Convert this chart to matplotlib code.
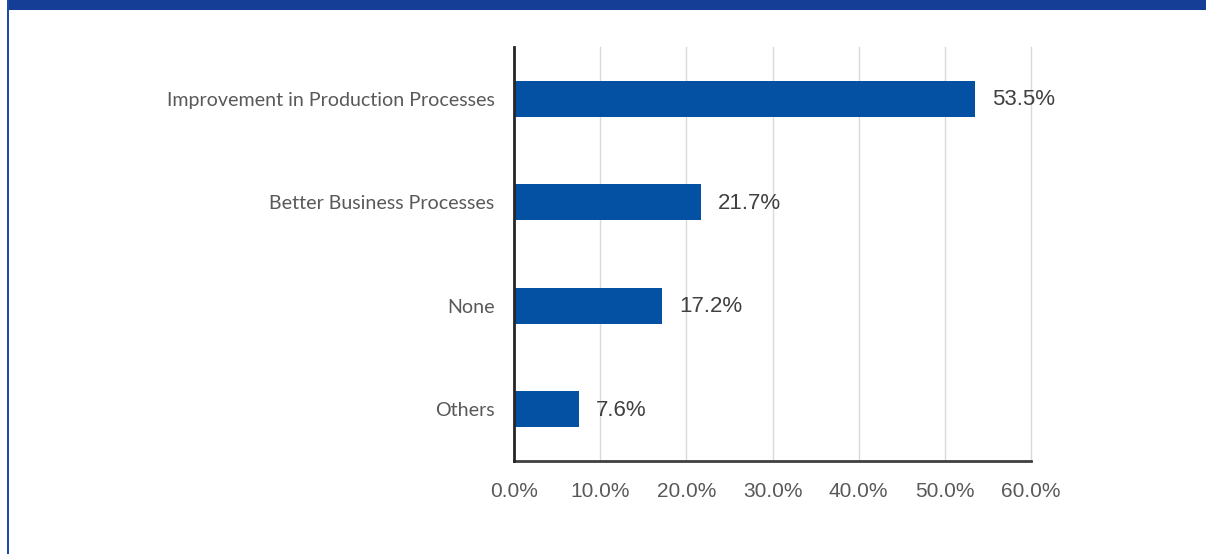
import matplotlib.pyplot as plt
from matplotlib.patches import Rectangle

categories = ['Improvement in Production Processes', 'Better Business Processes',
              'None', 'Others']
values = [53.5, 21.7, 17.2, 7.6]
xticks = [0, 10, 20, 30, 40, 50, 60]

num_font = ['Liberation Sans Narrow', 'Liberation Sans']
cat_font = ['Lato', 'DejaVu Sans']

W, H = 1206, 554
fig = plt.figure(figsize=(W / 100, H / 100), dpi=100)

# frame: blue band along the top and a thin rule down the left side
fig.add_artist(Rectangle((7 / W, 1 - 10 / H), 1, 10 / H, transform=fig.transFigure,
                         color='#153f96', lw=0))
fig.add_artist(Rectangle((7 / W, 0), 2 / W, 1, transform=fig.transFigure,
                         color='#1e4aa8', lw=0))

ax = fig.add_axes([514 / W, 1 - 461 / H, 517 / W, 414 / H])
y = list(range(len(categories)))
ax.barh(y, values, height=0.35, color='#0450a3', zorder=3)
ax.set_ylim(3.5, -0.5)
ax.set_xlim(0, 60)

ax.set_xticks(xticks)
ax.set_xticklabels([f'{t:.1f}%' for t in xticks], family=num_font,
                   fontsize=15, color='#595959')
ax.set_yticks(y)
ax.set_yticklabels(categories, family=cat_font, fontsize=14.1, color='#595959')
ax.tick_params(axis='both', length=0)
ax.tick_params(axis='x', pad=15)
ax.tick_params(axis='y', pad=14)

ax.grid(axis='x', color='#d9d9d9', lw=1, zorder=0)
for line in ax.get_xgridlines():
    line.set_clip_on(False)
for side in ['top', 'right']:
    ax.spines[side].set_visible(False)
ax.spines['left'].set_color('#262626')
ax.spines['left'].set_linewidth(2)
ax.spines['bottom'].set_color('#404040')
ax.spines['bottom'].set_linewidth(2)
ax.spines['left'].set_zorder(4)

for yi, v in zip(y, values):
    ax.text(v + 1.95, yi + 0.01, f'{v:.1f}%', va='center', ha='left',
            family=num_font, fontsize=16, color='#404040')

fig.savefig('out.png', dpi=100)
